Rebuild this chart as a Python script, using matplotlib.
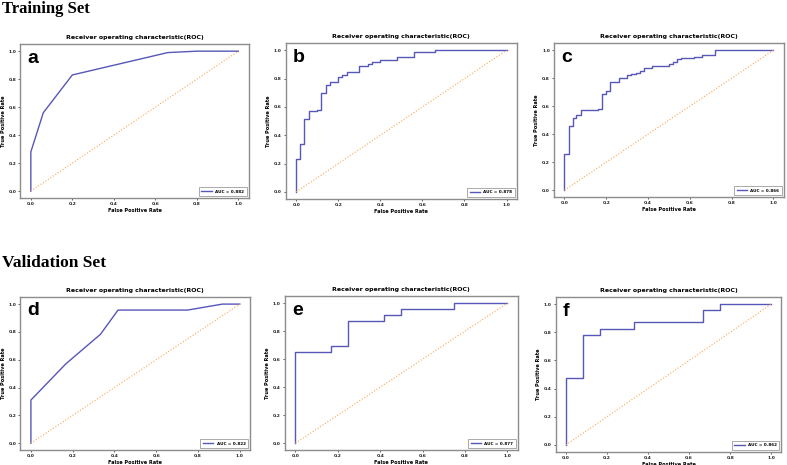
import matplotlib.pyplot as plt

# ROC curves (fpr / tpr pairs), one per panel
fpr_a = [0.0, 0.0, 0.06, 0.20, 0.66, 0.80, 1.0]
tpr_a = [0.0, 0.28, 0.56, 0.83, 0.99, 1.0, 1.0]

fpr_b = [0.0, 0.0, 0.019, 0.038, 0.06, 0.10, 0.12, 0.142, 0.161, 0.20, 0.22, 0.24,
         0.30, 0.34, 0.36, 0.40, 0.48, 0.56, 0.66, 1.0]
tpr_b = [0.0, 0.234, 0.34, 0.517, 0.572, 0.58, 0.696, 0.756, 0.773, 0.813, 0.823, 0.845,
         0.888, 0.905, 0.915, 0.933, 0.95, 0.99, 1.0, 1.0]

fpr_c = [0.0, 0.0, 0.022, 0.04, 0.055, 0.08, 0.16, 0.18, 0.20, 0.22, 0.26, 0.30, 0.32,
         0.34, 0.36, 0.38, 0.42, 0.50, 0.52, 0.54, 0.56, 0.62, 0.66, 0.72, 1.0]
tpr_c = [0.0, 0.262, 0.46, 0.517, 0.535, 0.572, 0.58, 0.685, 0.71, 0.772, 0.80, 0.82, 0.83,
         0.84, 0.855, 0.87, 0.885, 0.905, 0.915, 0.935, 0.945, 0.955, 0.965, 1.0, 1.0]

fpr_d = [0.0, 0.0, 0.167, 0.333, 0.417, 0.75, 0.917, 1.0]
tpr_d = [0.0, 0.31, 0.57, 0.783, 0.957, 0.957, 1.0, 1.0]

fpr_e = [0.0, 0.0, 0.167, 0.25, 0.417, 0.50, 0.75, 1.0]
tpr_e = [0.0, 0.652, 0.696, 0.87, 0.913, 0.957, 1.0, 1.0]

fpr_f = [0.0, 0.0, 0.083, 0.167, 0.333, 0.667, 0.75, 1.0]
tpr_f = [0.0, 0.478, 0.783, 0.826, 0.87, 0.957, 1.0, 1.0]

letters = ['a', 'b', 'c', 'd', 'e', 'f']
aucs = [0.882, 0.878, 0.866, 0.822, 0.877, 0.862]
step = [False, True, True, False, True, True]
curves = [(fpr_a, tpr_a), (fpr_b, tpr_b), (fpr_c, tpr_c),
          (fpr_d, tpr_d), (fpr_e, tpr_e), (fpr_f, tpr_f)]

# axes boxes in figure fraction
boxes = [[0.026, 0.574, 0.290, 0.331],
         [0.363, 0.572, 0.294, 0.335],
         [0.704, 0.576, 0.292, 0.331],
         [0.026, 0.032, 0.292, 0.329],
         [0.362, 0.032, 0.296, 0.331],
         [0.706, 0.028, 0.287, 0.333]]

fig = plt.figure(figsize=(7.87, 4.65), dpi=100)

for i in range(6):
    ax = fig.add_axes(boxes[i])
    x, y = curves[i]
    if step[i]:
        ax.step(x, y, where='post', color='#5757b8', lw=1.0, label='AUC = %.3f' % aucs[i])
    else:
        ax.plot(x, y, color='#5757b8', lw=1.0, label='AUC = %.3f' % aucs[i])
    ax.plot([0, 1], [0, 1], color='#ffa64d', lw=0.8, ls=':')
    ax.set_xticks([0, 0.2, 0.4, 0.6, 0.8, 1.0])
    ax.set_yticks([0, 0.2, 0.4, 0.6, 0.8, 1.0])
    ax.tick_params(labelsize=3.2, length=1.5, width=0.5, pad=1.5, colors='#222222')
    for lab in ax.get_xticklabels() + ax.get_yticklabels():
        lab.set_fontweight('bold')
    for s in ax.spines.values():
        s.set_color('#8c8c8c')
        s.set_linewidth(1.0)
    ax.set_title('Receiver operating characteristic(ROC)', fontsize=4.5,
                 fontweight='bold', pad=4)
    ax.set_xlabel('False Positive Rate', fontsize=3.6, fontweight='bold', labelpad=1)
    ax.set_ylabel('True Positive Rate', fontsize=3.6, fontweight='bold', labelpad=2)
    leg = ax.legend(loc='lower right', fontsize=3.0, handlelength=2.5,
                    borderpad=0.6, fancybox=False, framealpha=1)
    leg.get_frame().set_linewidth(0.5)
    leg.get_frame().set_edgecolor('#888888')
    for t in leg.get_texts():
        t.set_fontweight('bold')
    ax.text(0.03, 0.965, letters[i], transform=ax.transAxes, fontsize=14,
            fontweight='bold', family='Liberation Sans', va='top', ha='left')

fig.text(0.003, 0.998, 'Training Set', family='Liberation Serif', fontweight='bold',
         fontsize=12, va='top', ha='left')
fig.text(0.003, 0.452, 'Validation Set', family='Liberation Serif', fontweight='bold',
         fontsize=12.5, va='top', ha='left')

fig.savefig('out.png', dpi=100)
